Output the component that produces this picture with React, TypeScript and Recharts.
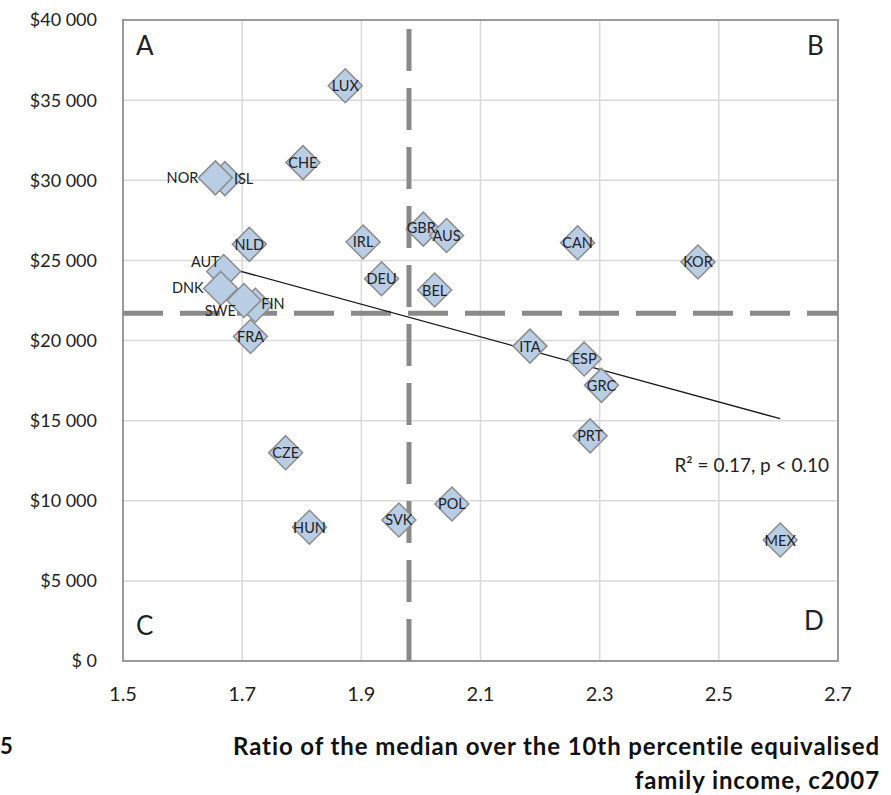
import { ScatterChart, Scatter, XAxis, YAxis, CartesianGrid, ReferenceLine, ReferenceArea } from 'recharts';

// countries drawn in this order (later ones sit on top)
const countries = ['LUX','CHE','ISL','NOR','NLD','AUT','DNK','FIN','SWE','FRA','IRL','DEU','GBR','AUS','BEL','CAN','KOR','ITA','ESP','GRC','PRT','CZE','HUN','SVK','POL','MEX'];
const ratio = [1.873,1.802,1.671,1.655,1.712,1.669,1.664,1.722,1.703,1.714,1.903,1.934,2.004,2.043,2.023,2.263,2.465,2.183,2.274,2.303,2.284,1.773,1.813,1.963,2.052,2.603];
const income = [35900,31100,30100,30150,26000,24300,23250,22200,22500,20250,26150,23850,26950,26550,23150,26100,24900,19650,18850,17200,14050,13000,8350,8800,9800,7550];

const xTicks = [1.5,1.7,1.9,2.1,2.3,2.5,2.7];
const yTicks = [0,5000,10000,15000,20000,25000,30000,35000,40000];

const meanRatio = 1.98;
const meanIncome = 21700;
const trend = [{ x: 1.655, y: 24750 }, { x: 2.603, y: 15120 }];

const quadrants = [
  { x: 1.522, y: 38450, text: 'A', anchor: 'start' },
  { x: 2.676, y: 38450, text: 'B', anchor: 'end' },
  { x: 1.522, y: 2250, text: 'C', anchor: 'start' },
  { x: 2.676, y: 2550, text: 'D', anchor: 'end' },
];
const fitNote = [{ x: 2.685, y: 12250, text: 'R\u00b2 = 0.17, p < 0.10' }];

const points = countries.map((c, i) => ({ code: c, x: ratio[i], y: income[i] }));

// label placement tweaks (pixels), everything else centred on the marker
const labelPos: Record<string, { dx: number; dy: number; anchor: string }> = {
  NOR: { dx: -17, dy: 0, anchor: 'end' },
  ISL: { dx: 9, dy: 0, anchor: 'start' },
  AUT: { dx: -4, dy: -10, anchor: 'end' },
  DNK: { dx: -17, dy: -1, anchor: 'end' },
  SWE: { dx: -8, dy: 10, anchor: 'end' },
  FIN: { dx: 6, dy: -2, anchor: 'start' },
  GBR: { dx: -2, dy: -2, anchor: 'middle' },
};

const font = 'Lato, "Open Sans", sans-serif';

const Diamond = (p: any) => {
  const { cx, cy } = p;
  const r = 17;
  return (
    <polygon
      points={`${cx},${cy - r} ${cx + r},${cy} ${cx},${cy + r} ${cx - r},${cy}`}
      fill="#b9cde5" stroke="#8c8c8c" strokeWidth={1.5}
    />
  );
};

const CodeLabel = (p: any) => {
  const { cx, cy, payload } = p;
  const pos = labelPos[payload.code] || { dx: 0, dy: 0, anchor: 'middle' };
  return (
    <text x={cx + pos.dx} y={cy + pos.dy} textAnchor={pos.anchor} dominantBaseline="central"
      fontSize={14.5} fontFamily={font} fill="#222">{payload.code}</text>
  );
};

const QuadText = (p: any) => {
  const { cx, cy, payload } = p;
  return (
    <text x={cx} y={cy} textAnchor={payload.anchor} dominantBaseline="central"
      fontSize={26} fontFamily={font} fill="#222">{payload.text}</text>
  );
};

const NoteText = (p: any) => {
  const { cx, cy, payload } = p;
  return (
    <text x={cx} y={cy} textAnchor="end" dominantBaseline="central"
      fontSize={19} fontFamily={font} fill="#222">{payload.text}</text>
  );
};

const fmtY = (v: number) => (v === 0 ? '$ 0' : `$${v / 1000} 000`);

export default function App() {
  return (
    <div style={{ position: 'relative', width: 891, height: 795, background: '#fff' }}>
      <style>{`body{margin:0}`}</style>
      <ScatterChart width={891} height={795} margin={{ top: 20, right: 53, bottom: 74, left: 23 }}>
        <CartesianGrid stroke="#d9d9d9" strokeWidth={1.5} />
        <XAxis type="number" dataKey="x" domain={[1.5, 2.7]} ticks={xTicks} allowDataOverflow
          tickFormatter={(v: number) => v.toFixed(1)} height={60} axisLine={false} tickLine={false}
          tickSize={0} tickMargin={26} tick={{ fontSize: 20, fontFamily: font, fill: '#222' }} />
        <YAxis type="number" dataKey="y" domain={[0, 40000]} ticks={yTicks} allowDataOverflow
          tickFormatter={fmtY} width={100} axisLine={false} tickLine={false}
          tickSize={0} tickMargin={26} tick={{ fontSize: 18, fontFamily: font, fill: '#222' }} />
        <ReferenceArea x1={1.5} x2={2.7} y1={0} y2={40000} fill="none" stroke="#9a9a9a" strokeWidth={2} />
        <Scatter data={points} shape={Diamond} isAnimationActive={false} />
        <ReferenceLine x={meanRatio} stroke="#8a8a8a" strokeWidth={5} strokeDasharray="42 17" />
        <ReferenceLine y={meanIncome} stroke="#8a8a8a" strokeWidth={5} strokeDasharray="40 17" />
        <ReferenceLine segment={trend} stroke="#1a1a1a" strokeWidth={1.3} />
        <Scatter data={points} shape={CodeLabel} isAnimationActive={false} />
        <Scatter data={quadrants} shape={QuadText} isAnimationActive={false} />
        <Scatter data={fitNote} shape={NoteText} isAnimationActive={false} />
      </ScatterChart>
      <div style={{ position: 'absolute', left: 0, top: 732, fontFamily: font, fontWeight: 700, fontSize: 22, color: '#111' }}>5</div>
      <div style={{ position: 'absolute', right: 11, top: 729, textAlign: 'right', fontFamily: font, fontWeight: 700,
        fontSize: 24, lineHeight: '34px', letterSpacing: 0.9, color: '#111', whiteSpace: 'nowrap' }}>
        Ratio of the median over the 10th percentile equivalised<br />family income, c2007
      </div>
    </div>
  );
}
